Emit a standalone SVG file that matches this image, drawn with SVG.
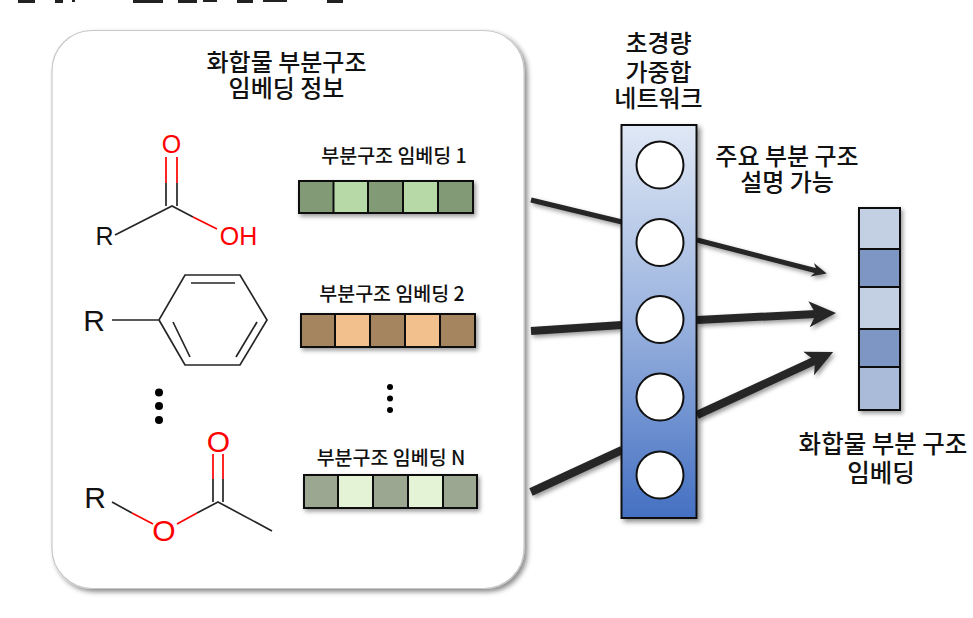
<svg xmlns="http://www.w3.org/2000/svg" width="973" height="618" viewBox="0 0 973 618">
<defs>
<linearGradient id="net" x1="0" y1="0" x2="0" y2="1"><stop offset="0" stop-color="#e0e8f5"/><stop offset="0.5" stop-color="#99b2de"/><stop offset="1" stop-color="#4470c2"/></linearGradient>
<filter id="sh" x="-20%" y="-20%" width="140%" height="140%"><feDropShadow dx="3" dy="3" stdDeviation="2.5" flood-color="#000" flood-opacity="0.45"/></filter>
<filter id="sh2" x="-20%" y="-40%" width="140%" height="180%"><feDropShadow dx="2" dy="2.5" stdDeviation="2" flood-color="#000" flood-opacity="0.4"/></filter>
<marker id="ah" markerUnits="userSpaceOnUse" markerWidth="30" markerHeight="30" refX="7" refY="15" orient="auto"><path d="M0 2L27 15L0 28L7 15Z" fill="#262626"/></marker>
<marker id="ahs" markerUnits="userSpaceOnUse" markerWidth="20" markerHeight="20" refX="5" refY="10" orient="auto"><path d="M0 3L15 10L0 17L5 10Z" fill="#262626"/></marker>
</defs>
<style>
text{font-family:"Noto Sans CJK KR","Liberation Sans",sans-serif;fill:#111;text-anchor:middle}
.t{font-size:24px;font-weight:500}
.s{font-size:19.5px;font-weight:500}
.a{font-family:"Liberation Sans",sans-serif;font-size:25px}
.b{font-size:30px}
.r{fill:#f00}
.k{stroke:#262626;stroke-width:1.7;fill:none}
.o{stroke:#f00;stroke-width:1.7;fill:none}
.c{stroke:#111;stroke-width:2}
.conn{stroke:#262626;fill:none}
</style>
<g id="cropped-caption" fill="#222"><rect x="18" y="0" width="17" height="3"/><rect x="55" y="0" width="8" height="3"/><rect x="72" y="0" width="3" height="2"/><rect x="133" y="0" width="30" height="3"/><rect x="178" y="0" width="19" height="3"/><rect x="203" y="0" width="14" height="2"/><rect x="237" y="0" width="16" height="3"/><rect x="263" y="0" width="24" height="2"/><rect x="327" y="0" width="16" height="3"/></g>
<g id="panel"><rect x="52" y="30.500" width="472" height="558" rx="40" fill="#fff" stroke="#c8c8c8" stroke-width="1.200" filter="url(#sh)"/>
<text class="t" x="286.500"><tspan x="286.500" y="71">화합물 부분구조</tspan><tspan x="286.500" y="97">임베딩 정보</tspan></text></g>

<g id="mol1">
<path class="k" d="M115 235L172 206L193 217M166 206V183M177 206V183"/>
<path class="o" d="M166 183V157M177 183V157M193 217L217 229"/>
<text class="a r" x="171.500" y="153">O</text><text class="a r" x="238.500" y="245">OH</text><text class="a" x="104.500" y="245">R</text>
</g>
<g id="mol2">
<path class="k" stroke-width="1.800" d="M112 320H159L185 275H240L267 320L240 365H185L159 320M191 283H235M173 322L190 357M257 322L236 357"/>
<text class="a b" x="94" y="331">R</text>
</g>
<g id="dots1"><circle cx="159" cy="392.500" r="4"/><circle cx="159" cy="406" r="4"/><circle cx="159" cy="420" r="4"/></g>
<g id="mol3">
<path class="k" d="M112 502L132 513M197 513L218 502L272 531M213 502V479M223 502V479"/>
<path class="o" d="M132 513L153 524M177 524L197 513M213 479V454M223 479V454"/>
<text class="a b r" x="218.500" y="452">O</text><text class="a b r" x="164" y="541">O</text><text class="a b" x="95" y="508">R</text>
</g>

<g id="emb1"><text class="s" x="394" y="163">부분구조 임베딩 1</text>
<g filter="url(#sh2)"><rect x="299" y="181" width="174" height="32" fill="#829a76" class="c"/><rect x="333.500" y="181" width="34.500" height="32" fill="#b7d9a8" class="c"/><rect x="403" y="181" width="35" height="32" fill="#b7d9a8" class="c"/></g></g>
<g id="emb2"><text class="s" x="392" y="301">부분구조 임베딩 2</text>
<g filter="url(#sh2)"><rect x="301" y="314" width="174" height="33" fill="#a58460" class="c"/><rect x="335" y="314" width="35" height="33" fill="#f2c08c" class="c"/><rect x="405" y="314" width="35" height="33" fill="#f2c08c" class="c"/></g></g>
<g id="dots2"><circle cx="390" cy="387" r="3"/><circle cx="390" cy="398.500" r="3"/><circle cx="390" cy="410" r="3"/></g>
<g id="embN"><text class="s" x="391" y="465">부분구조 임베딩 N</text>
<g filter="url(#sh2)"><rect x="304" y="475" width="173" height="33" fill="#9ba791" class="c"/><rect x="338" y="475" width="35" height="33" fill="#e4f2d6" class="c"/><rect x="408" y="475" width="35" height="33" fill="#e4f2d6" class="c"/></g></g>

<g id="connectors" filter="url(#sh2)">
<path class="conn" stroke-width="5" d="M531 200L622 222"/>
<path class="conn" stroke-width="8" d="M531 331L622 325"/>
<path class="conn" stroke-width="8" d="M531 492L622 450"/>
<path class="conn" stroke-width="5" d="M697 240L817 271" marker-end="url(#ahs)"/>
<path class="conn" stroke-width="8" d="M697 320L816 314" marker-end="url(#ah)"/>
<path class="conn" stroke-width="8" d="M697 415L815 360.500" marker-end="url(#ah)"/>
</g>

<g id="network"><text class="t"><tspan x="658.500" y="52">초경량</tspan><tspan x="658.500" y="81">가중합</tspan><tspan x="658.500" y="107">네트워크</tspan></text>
<rect x="621.500" y="125" width="75" height="393" fill="url(#net)" stroke="#111" stroke-width="2" filter="url(#sh)"/>
<g fill="#fff" stroke="#111" stroke-width="2"><circle cx="660" cy="165" r="23.500"/><circle cx="660" cy="242.500" r="23.500"/><circle cx="660" cy="319.500" r="23.500"/><circle cx="660" cy="397" r="23.500"/><circle cx="660" cy="475" r="23.500"/></g></g>

<g id="explain"><text class="t"><tspan x="787" y="165">주요 부분 구조</tspan><tspan x="787" y="191">설명 가능</tspan></text></g>

<g id="result"><g filter="url(#sh2)" class="c"><rect x="859" y="208" width="41" height="202" fill="#c3cfe3"/><rect x="859" y="249" width="41" height="38" fill="#7d96c4"/><rect x="859" y="329" width="41" height="38" fill="#7d96c4"/><rect x="859" y="367" width="41" height="43" fill="#a9bbd9"/></g>
<text class="t" style="font-size:24.500px"><tspan x="883" y="453">화합물 부분 구조</tspan><tspan x="881" y="482">임베딩</tspan></text></g>
</svg>
